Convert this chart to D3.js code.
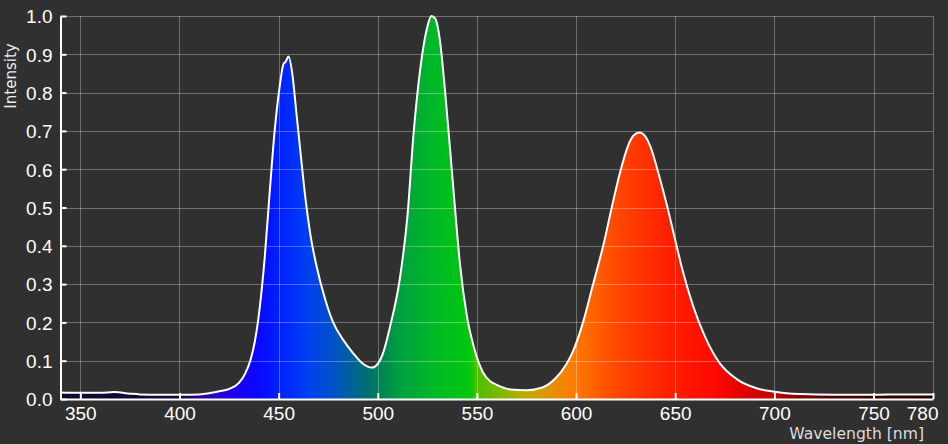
<!DOCTYPE html>
<html>
<head>
<meta charset="utf-8">
<script src="https://cdn.jsdelivr.net/npm/d3@7"></script>
<style>
  html, body { margin: 0; padding: 0; background: #303030; }
  svg { display: block; }
</style>
</head>
<body>
<div id="chart"></div>
<script>
// Spectrum (wavelength in nm, relative intensity)
const wavelengths = [340, 350, 360, 367, 375, 380, 390, 400, 410, 415, 420, 425, 430, 433, 436, 438, 440.5, 443, 445.5, 448,
  450.5, 452.5, 453.5, 455, 457, 459, 461, 463.5, 466, 469, 473.5, 477.5, 482.5, 487.5, 492.5, 497, 500, 503, 506, 511,
  515, 518, 521.5, 525, 527, 529, 531.5, 534, 536.5, 539, 541.5, 545, 548.5, 553, 557, 560, 567, 575, 583, 590,
  595, 598.5, 603.5, 608.5, 614, 618, 622.5, 626.5, 629, 632, 635, 637.5, 641.5, 646, 650, 654, 659, 665, 672.5, 681,
  691, 700, 713, 730, 750, 765, 780];
const intensity = [0.017, 0.016, 0.016, 0.018, 0.014, 0.012, 0.011, 0.011, 0.012, 0.015, 0.020, 0.026, 0.042, 0.065, 0.105, 0.150, 0.24, 0.37, 0.54, 0.70,
  0.815, 0.875, 0.880, 0.894, 0.845, 0.745, 0.645, 0.525, 0.43, 0.35, 0.26, 0.20, 0.155, 0.12, 0.092, 0.082, 0.092, 0.125, 0.185, 0.31,
  0.48, 0.69, 0.865, 0.972, 1.0, 0.993, 0.93, 0.80, 0.65, 0.495, 0.35, 0.215, 0.135, 0.07, 0.045, 0.037, 0.025, 0.023, 0.03, 0.056,
  0.09, 0.125, 0.20, 0.298, 0.407, 0.50, 0.598, 0.665, 0.688, 0.696, 0.685, 0.659, 0.59, 0.502, 0.415, 0.33, 0.243, 0.163, 0.093, 0.052,
  0.028, 0.019, 0.013, 0.011, 0.011, 0.012, 0.012];

const xTicks = [350, 400, 450, 500, 550, 600, 650, 700, 750, 780];
const yTicks = [0, 0.1, 0.2, 0.3, 0.4, 0.5, 0.6, 0.7, 0.8, 0.9, 1.0];

// colour of the fill under each wavelength
const spectrumStops = [
  [340, "#0c0a2c"], [400, "#180640"], [410, "#2a0090"], [420, "#2800d0"], [430, "#1800f0"],
  [440, "#0a08ff"], [450, "#0020ff"], [465, "#0040f0"], [475, "#004ed0"], [482, "#0058b0"],
  [490, "#006888"], [497, "#007468"], [503, "#008850"], [511, "#00a040"], [528, "#00b828"],
  [545, "#00c810"], [548, "#10c800"], [549, "#48c000"], [562, "#80b800"], [572, "#b0b000"],
  [580, "#d0a000"], [592, "#f08800"], [600, "#ff7800"], [620, "#ff4800"], [645, "#ff2200"],
  [670, "#ff0800"], [685, "#e00000"], [700, "#c00000"], [715, "#800000"], [730, "#500000"],
  [780, "#200000"]
];

const W = 948, H = 444;
const m = { left: 60.5, right: 933, top: 16, bottom: 399 };

const svg = d3.select("#chart").append("svg")
  .attr("width", W).attr("height", H);

svg.append("rect").attr("width", W).attr("height", H).attr("fill", "#303030");

const x = d3.scaleLinear().domain([340, 780]).range([m.left, m.right]);
const y = d3.scaleLinear().domain([0, 1]).range([m.bottom, m.top]);

const data = wavelengths.map((w, i) => ({ w: w, v: intensity[i] }));

const defs = svg.append("defs");
const grad = defs.append("linearGradient")
  .attr("id", "spectrum")
  .attr("gradientUnits", "userSpaceOnUse")
  .attr("x1", x(340)).attr("x2", x(780))
  .attr("y1", 0).attr("y2", 0);
spectrumStops.forEach(s => {
  grad.append("stop")
    .attr("offset", ((s[0] - 340) / 440 * 100) + "%")
    .attr("stop-color", s[1]);
});

const curve = d3.curveMonotoneX;

svg.append("path")
  .datum(data)
  .attr("fill", "url(#spectrum)")
  .attr("d", d3.area().x(d => x(d.w)).y0(y(0)).y1(d => y(d.v)).curve(curve));

// grid on top of the fill
const grid = svg.append("g").attr("stroke", "#fff").attr("stroke-opacity", 0.3).attr("stroke-width", 1);
grid.selectAll("line.gx").data(xTicks).enter().append("line")
  .attr("x1", d => Math.round(x(d)) + 0.5).attr("x2", d => Math.round(x(d)) + 0.5)
  .attr("y1", m.top).attr("y2", m.bottom);
grid.selectAll("line.gy").data(yTicks.slice(1)).enter().append("line")
  .attr("x1", m.left).attr("x2", m.right)
  .attr("y1", d => Math.round(y(d)) + 0.5).attr("y2", d => Math.round(y(d)) + 0.5);

svg.append("path")
  .datum(data)
  .attr("fill", "none")
  .attr("stroke", "#fff")
  .attr("stroke-width", 2)
  .attr("stroke-linejoin", "round")
  .attr("d", d3.line().x(d => x(d.w)).y(d => y(d.v)).curve(curve));

// axes: white lines with inward ticks
const xAxis = svg.append("g").attr("transform", `translate(0,${m.bottom})`)
  .call(d3.axisBottom(x).tickValues(xTicks).tickSizeInner(-6).tickSizeOuter(0).tickPadding(8).tickFormat(d3.format("d")));
const yAxis = svg.append("g").attr("transform", `translate(${m.left},0)`)
  .call(d3.axisLeft(y).tickValues(yTicks).tickSizeInner(-6).tickSizeOuter(0).tickPadding(8).tickFormat(d3.format(".1f")));

[xAxis, yAxis].forEach(g => {
  g.select(".domain").attr("stroke", "#fff").attr("stroke-width", 2);
  g.selectAll(".tick line").attr("stroke", "#fff").attr("stroke-width", 2);
  g.selectAll(".tick text")
    .attr("fill", "#fff")
    .style("font-family", "'Liberation Sans', Arial, sans-serif")
    .style("font-size", "19px");
});
yAxis.selectAll(".tick text").attr("dy", "0.36em");
// last wavelength label is kept inside the picture
xAxis.selectAll(".tick").filter(d => d === 780).select("text")
  .attr("text-anchor", "end").attr("x", 5);

svg.append("text")
  .attr("transform", "translate(16,76) rotate(-90)")
  .attr("text-anchor", "middle")
  .attr("fill", "#eee")
  .style("font-family", "'DejaVu Sans', Verdana, sans-serif")
  .style("font-size", "15px")
  .text("Intensity");

svg.append("text")
  .attr("x", 924).attr("y", 439)
  .attr("text-anchor", "end")
  .attr("fill", "#ddd")
  .style("font-family", "'DejaVu Sans', Verdana, sans-serif")
  .style("font-size", "15.6px")
  .text("Wavelength [nm]");
</script>
</body>
</html>
